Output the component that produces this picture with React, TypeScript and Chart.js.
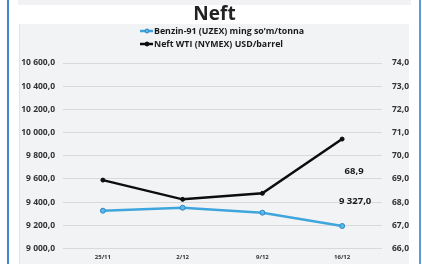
import React, { useEffect, useRef } from "react";
import { Chart, registerables } from "chart.js";

Chart.register(...registerables);

const titleText = "Neft";
const categories = ["25/11", "2/12", "9/12", "16/12"];
const seriesNames = ["Benzin-91 (UZEX) ming so\u2019m/tonna", "Neft WTI (NYMEX) USD/barrel"];
const benzinValues = [9326, 9352, 9309, 9194];
const wtiValues = [68.95, 68.12, 68.38, 70.72];
const leftAxisRange = [9000, 10600, 200];
const rightAxisRange = [66, 74, 1];
const endLabels = ["9 327,0", "68,9"];

const FONT = "'Open Sans', Lato, sans-serif";
const TEXT = "#333333";
const BLUE = "#3fa6dd";
const BLUE_DARK = "#2d86c4";
const BLACK = "#0d0d0d";

const fmt = (v: number) => {
  const [i, d] = v.toFixed(1).split(".");
  return i.replace(/\B(?=(\d{3})+(?!\d))/g, " ") + "," + d;
};

const decoPlugin = {
  id: "deco",
  afterDraw(chart: any) {
    const ctx = chart.ctx;
    ctx.save();
    // title
    ctx.fillStyle = "#222222";
    ctx.font = `bold 19px ${FONT}`;
    ctx.textAlign = "center";
    ctx.textBaseline = "middle";
    ctx.fillText(titleText, 214.5, 15);
    // legend
    const rows = [31, 44];
    chart.data.datasets.forEach((ds: any, i: number) => {
      const y = rows[i];
      ctx.strokeStyle = ds.borderColor;
      ctx.lineWidth = 2.5;
      ctx.beginPath();
      ctx.moveTo(140, y);
      ctx.lineTo(153, y);
      ctx.stroke();
      ctx.beginPath();
      ctx.fillStyle = ds.pointBackgroundColor;
      ctx.strokeStyle = ds.pointBorderColor;
      ctx.lineWidth = 1;
      ctx.arc(147, y, 2, 0, Math.PI * 2);
      ctx.fill();
      ctx.stroke();
      ctx.fillStyle = "#1a1a1a";
      ctx.font = `bold 8.8px ${FONT}`;
      ctx.textAlign = "left";
      ctx.textBaseline = "middle";
      ctx.fillText(ds.label, 154, y + 0.5);
    });
    // end labels
    const offs = [
      [13, -25],
      [12, 32],
    ];
    chart.data.datasets.forEach((ds: any, i: number) => {
      const meta = chart.getDatasetMeta(i);
      const pt = meta.data[meta.data.length - 1];
      ctx.fillStyle = "#1a1a1a";
      ctx.font = `bold 9.5px ${FONT}`;
      ctx.textAlign = "center";
      ctx.textBaseline = "middle";
      ctx.fillText(endLabels[i], pt.x + offs[i][0], pt.y + offs[i][1]);
    });
    ctx.restore();
  },
};

export default function App() {
  const ref = useRef<HTMLCanvasElement>(null);
  useEffect(() => {
    if (!ref.current) return;
    const chart = new Chart(ref.current, {
      type: "line",
      data: {
        labels: categories,
        datasets: [
          {
            label: seriesNames[0],
            data: benzinValues,
            yAxisID: "y",
            borderColor: BLUE,
            borderWidth: 2.5,
            pointRadius: 2.5,
            pointBackgroundColor: "#5cb8e8",
            pointBorderColor: BLUE_DARK,
            pointBorderWidth: 1,
            tension: 0,
          },
          {
            label: seriesNames[1],
            data: wtiValues,
            yAxisID: "y1",
            borderColor: BLACK,
            borderWidth: 2.5,
            pointRadius: 2,
            pointBackgroundColor: BLACK,
            pointBorderColor: BLACK,
            pointBorderWidth: 1,
            tension: 0,
          },
        ],
      },
      options: {
        animation: false,
        responsive: false,
        devicePixelRatio: 1,
        layout: { padding: { top: 63, left: 0, right: 0, bottom: 0 } },
        plugins: {
          legend: { display: false },
          title: { display: false },
          tooltip: { enabled: false },
        },
        scales: {
          x: {
            type: "category",
            offset: true,
            grid: { display: false, drawTicks: false },
            border: { display: false },
            ticks: {
              color: TEXT,
              font: { family: FONT, size: 6, weight: "bold" },
              padding: 5,
              maxRotation: 0,
            },
            afterFit: (s: any) => {
              s.height = 15.5;
            },
          },
          y: {
            position: "left",
            min: leftAxisRange[0],
            max: leftAxisRange[1],
            grid: { color: "#d9d9d9", drawTicks: false, lineWidth: 1 },
            border: { display: false },
            ticks: {
              stepSize: leftAxisRange[2],
              color: TEXT,
              font: { family: FONT, size: 8.5, weight: "bold" },
              padding: 8,
              callback: (v: any) => fmt(Number(v)),
            },
            afterFit: (s: any) => {
              s.width = 63;
            },
          },
          y1: {
            position: "right",
            min: rightAxisRange[0],
            max: rightAxisRange[1],
            grid: { drawOnChartArea: false, drawTicks: false },
            border: { display: false },
            ticks: {
              stepSize: rightAxisRange[2],
              color: TEXT,
              font: { family: FONT, size: 8.5, weight: "bold" },
              padding: 10,
              callback: (v: any) => fmt(Number(v)),
            },
            afterFit: (s: any) => {
              s.width = 40;
            },
          },
        },
      } as any,
      plugins: [decoPlugin],
    });
    return () => chart.destroy();
  }, []);

  return (
    <div
      style={{
        position: "fixed",
        left: 0,
        top: 0,
        width: 422,
        height: 264,
        background: "#ffffff",
        overflow: "hidden",
      }}
    >
      <div style={{ position: "absolute", left: 18, top: 0, width: 393, height: 5, background: "#f2f2f4" }} />
      <div
        style={{
          position: "absolute",
          left: 19,
          top: 24,
          width: 390,
          height: 240,
          background: "#f2f3f5",
          borderLeft: "1px solid #e2e3e6",
          boxSizing: "border-box",
        }}
      />
      <div style={{ position: "absolute", left: 7, top: 0, width: 2, height: 264, background: "#3f85d0" }} />
      <div style={{ position: "absolute", left: 419, top: 0, width: 2, height: 264, background: "#5b9bd8" }} />
      <canvas
        ref={ref}
        width={422}
        height={264}
        style={{ position: "absolute", left: 0, top: 0, width: 422, height: 264 }}
      />
    </div>
  );
}
